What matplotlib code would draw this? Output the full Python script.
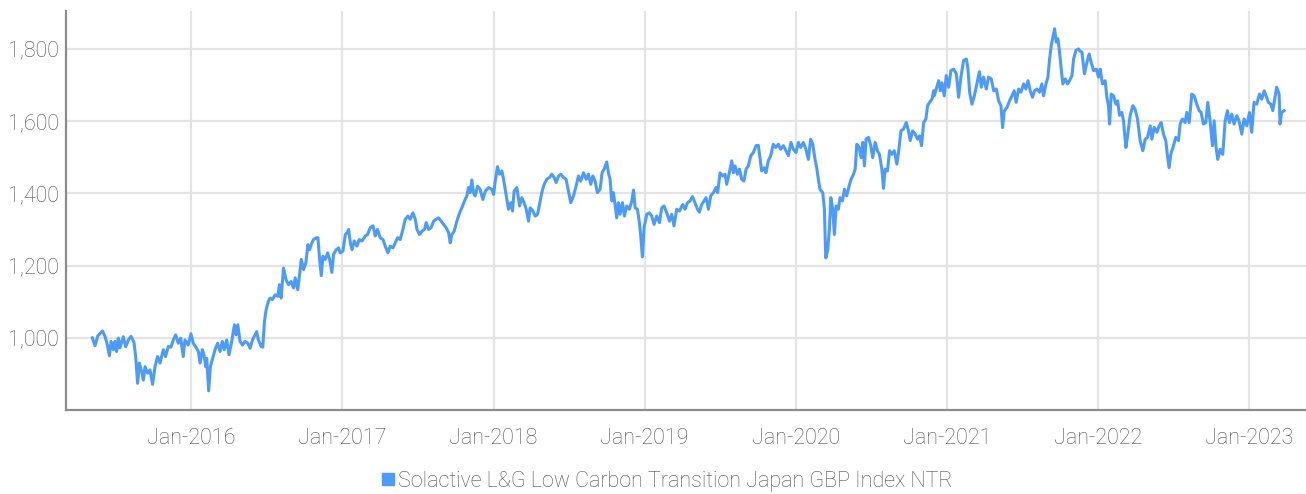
import numpy as np
import pandas as pd
import matplotlib
matplotlib.use("Agg")
import matplotlib.pyplot as plt
import matplotlib.dates as mdates
from matplotlib.ticker import FuncFormatter
from matplotlib.lines import Line2D
from matplotlib import font_manager

# Index level observations: time as decimal years, level in index points
years = [
    2015.347, 2015.365, 2015.383, 2015.414, 2015.431, 2015.447, 2015.460, 2015.471, 2015.486, 2015.497,
    2015.508, 2015.519, 2015.530, 2015.552, 2015.568, 2015.586, 2015.603, 2015.623, 2015.634, 2015.647,
    2015.658, 2015.674, 2015.685, 2015.696, 2015.713, 2015.729, 2015.746, 2015.762, 2015.779, 2015.795,
    2015.817, 2015.832, 2015.850, 2015.868, 2015.883, 2015.899, 2015.916, 2015.932, 2015.949, 2015.960,
    2015.982, 2016.000, 2016.015, 2016.033, 2016.049, 2016.060, 2016.075, 2016.088, 2016.097, 2016.104,
    2016.117, 2016.128, 2016.143, 2016.159, 2016.176, 2016.192, 2016.207, 2016.220, 2016.236, 2016.251,
    2016.269, 2016.287, 2016.298, 2016.309, 2016.324, 2016.340, 2016.357, 2016.375, 2016.390, 2016.406,
    2016.423, 2016.434, 2016.445, 2016.463, 2016.474, 2016.485, 2016.496, 2016.511, 2016.522, 2016.538,
    2016.556, 2016.573, 2016.584, 2016.595,
    2016.611, 2016.628, 2016.644, 2016.661, 2016.677, 2016.688, 2016.705, 2016.717, 2016.728, 2016.743,
    2016.758, 2016.772, 2016.783, 2016.798, 2016.809, 2016.827, 2016.838, 2016.849, 2016.860, 2016.871,
    2016.886, 2016.902, 2016.915, 2016.930, 2016.941, 2016.959, 2016.974, 2016.985, 2017.003, 2017.019,
    2017.030, 2017.041, 2017.052, 2017.063, 2017.078, 2017.096, 2017.111, 2017.129, 2017.151, 2017.166,
    2017.184, 2017.202, 2017.217, 2017.232, 2017.250, 2017.268, 2017.283, 2017.301, 2017.316, 2017.334,
    2017.349, 2017.365, 2017.382, 2017.400, 2017.415, 2017.433, 2017.448, 2017.466, 2017.482, 2017.493,
    2017.510, 2017.526, 2017.543, 2017.554, 2017.570, 2017.587, 2017.603, 2017.620, 2017.636, 2017.653,
    2017.669, 2017.686, 2017.702, 2017.713, 2017.724, 2017.739, 2017.757, 2017.775, 2017.790, 2017.808,
    2017.823, 2017.834, 2017.845, 2017.856, 2017.867, 2017.878, 2017.894,
    2017.911, 2017.929, 2017.945, 2017.967, 2017.989, 2018.000, 2018.011, 2018.026, 2018.039, 2018.055,
    2018.066, 2018.083, 2018.099, 2018.114, 2018.125, 2018.136, 2018.154, 2018.172, 2018.187, 2018.202,
    2018.216, 2018.231, 2018.242, 2018.260, 2018.275, 2018.291, 2018.304, 2018.319, 2018.335, 2018.352,
    2018.370, 2018.385, 2018.401, 2018.414, 2018.430, 2018.445, 2018.463, 2018.480, 2018.496, 2018.511,
    2018.529, 2018.546, 2018.562, 2018.577, 2018.595, 2018.613, 2018.628, 2018.643, 2018.657, 2018.672,
    2018.687, 2018.705, 2018.718, 2018.732, 2018.749, 2018.760, 2018.771, 2018.782, 2018.793, 2018.804,
    2018.815, 2018.826, 2018.837, 2018.853, 2018.866, 2018.881, 2018.899, 2018.915, 2018.926, 2018.937,
    2018.952, 2018.965, 2018.974, 2018.985, 2018.996, 2019.014, 2019.031, 2019.047, 2019.062, 2019.080,
    2019.098, 2019.113, 2019.128, 2019.146, 2019.164, 2019.179, 2019.194, 2019.212, 2019.230,
    2019.252, 2019.267, 2019.283, 2019.300, 2019.316, 2019.333, 2019.349, 2019.362, 2019.377, 2019.393,
    2019.406, 2019.422, 2019.437, 2019.455, 2019.472, 2019.483, 2019.499, 2019.516, 2019.532, 2019.543,
    2019.560, 2019.576, 2019.587, 2019.598, 2019.613, 2019.627, 2019.642, 2019.657, 2019.671, 2019.686,
    2019.702, 2019.719, 2019.737, 2019.752, 2019.763, 2019.774, 2019.790, 2019.803, 2019.818, 2019.834,
    2019.851, 2019.867, 2019.885, 2019.900, 2019.918, 2019.935, 2019.951, 2019.968, 2019.984, 2020.001,
    2020.017, 2020.032, 2020.050, 2020.067, 2020.083, 2020.098, 2020.112, 2020.127, 2020.138, 2020.149,
    2020.160, 2020.178, 2020.189, 2020.198, 2020.211, 2020.222, 2020.231, 2020.244, 2020.255, 2020.266,
    2020.281, 2020.292, 2020.308, 2020.321, 2020.336, 2020.352, 2020.365, 2020.381, 2020.392, 2020.403,
    2020.418, 2020.431, 2020.442, 2020.453, 2020.464, 2020.480, 2020.495, 2020.508, 2020.524, 2020.539,
    2020.552,
    2020.568, 2020.579, 2020.590, 2020.605, 2020.619, 2020.634, 2020.650, 2020.667, 2020.678, 2020.694,
    2020.711, 2020.729, 2020.744, 2020.755, 2020.771, 2020.788, 2020.804, 2020.817, 2020.830, 2020.844,
    2020.859, 2020.870, 2020.883, 2020.899, 2020.910,
    2020.914, 2020.927, 2020.943, 2020.954, 2020.965, 2020.980, 2020.993, 2021.009, 2021.024, 2021.042,
    2021.060, 2021.075, 2021.090, 2021.108, 2021.126, 2021.137, 2021.148, 2021.163, 2021.179, 2021.196,
    2021.212, 2021.225, 2021.240, 2021.258, 2021.273, 2021.291, 2021.307, 2021.324, 2021.340, 2021.355,
    2021.366, 2021.377, 2021.395, 2021.412, 2021.428, 2021.443, 2021.456, 2021.472, 2021.487, 2021.505,
    2021.520, 2021.534, 2021.549, 2021.564, 2021.578, 2021.593, 2021.611, 2021.626, 2021.637, 2021.653,
    2021.666, 2021.677, 2021.688, 2021.699, 2021.710, 2021.721, 2021.732, 2021.743, 2021.754, 2021.765,
    2021.781, 2021.796, 2021.809, 2021.825, 2021.836, 2021.851, 2021.869,
    2021.875, 2021.891, 2021.908, 2021.924, 2021.939, 2021.952, 2021.968, 2021.986, 2022.001, 2022.012,
    2022.027, 2022.045, 2022.056, 2022.067, 2022.074,
    2022.085, 2022.100, 2022.116, 2022.127, 2022.140, 2022.155, 2022.166, 2022.182, 2022.193, 2022.210,
    2022.228, 2022.243, 2022.259, 2022.276, 2022.294, 2022.310, 2022.325, 2022.343, 2022.354, 2022.369,
    2022.387, 2022.402, 2022.415, 2022.431, 2022.446, 2022.457, 2022.468, 2022.479, 2022.497, 2022.512,
    2022.530, 2022.541, 2022.556, 2022.574, 2022.585, 2022.601, 2022.618, 2022.634, 2022.651, 2022.667,
    2022.680, 2022.695, 2022.711, 2022.724, 2022.739, 2022.755, 2022.766, 2022.779, 2022.790, 2022.806,
    2022.823, 2022.839, 2022.854, 2022.867, 2022.883, 2022.898, 2022.916, 2022.931, 2022.949, 2022.964,
    2022.982, 2023.000, 2023.015, 2023.030, 2023.048, 2023.066, 2023.081, 2023.097, 2023.110, 2023.125,
    2023.141, 2023.154, 2023.165, 2023.180, 2023.196, 2023.202, 2023.213, 2023.229,
]

levels = [
    1000, 978, 1005, 1019, 1004, 980, 950, 990, 967, 990,
    962, 999, 972, 1003, 975, 994, 1004, 987, 948, 874,
    930, 906, 883, 920, 902, 911, 871, 920, 948, 930,
    967, 948, 976, 974, 994, 1008, 985, 999, 948, 994,
    980, 1011, 985, 974, 962, 930, 967, 948, 920, 943,
    853, 920, 943, 967, 985, 962, 990, 967, 994, 953,
    990, 1036, 1008, 1036, 990, 980, 990, 985, 971, 994,
    1008, 1017, 994, 976, 974, 1045, 1078, 1101, 1110, 1106,
    1119, 1115, 1147, 1110,
    1193, 1161, 1147, 1156, 1138, 1166, 1133, 1175, 1217, 1189,
    1207, 1258, 1244, 1263, 1272, 1277, 1277, 1217, 1172, 1226,
    1217, 1235, 1217, 1181, 1231, 1244, 1249, 1235, 1240, 1286,
    1291, 1300, 1263, 1244, 1268, 1254, 1272, 1268, 1282, 1286,
    1305, 1310, 1282, 1300, 1277, 1272, 1254, 1235, 1254, 1249,
    1263, 1277, 1272, 1300, 1328, 1337, 1328, 1346, 1328, 1300,
    1286, 1295, 1300, 1319, 1300, 1305, 1323, 1328, 1332, 1323,
    1314, 1305, 1291, 1263, 1286, 1295, 1323, 1346, 1360, 1379,
    1393, 1416, 1402, 1437, 1402, 1393, 1420,
    1411, 1383, 1406, 1416, 1411, 1397, 1434, 1474, 1453, 1462,
    1439, 1397, 1356, 1374, 1351, 1406, 1416, 1365, 1388, 1374,
    1356, 1323, 1360, 1351, 1337, 1342, 1369, 1402, 1425, 1439,
    1444, 1453, 1444, 1430, 1448, 1453, 1444, 1439, 1406, 1374,
    1393, 1420, 1448, 1434, 1457, 1439, 1453, 1425, 1448, 1434,
    1402, 1411, 1457, 1467, 1487, 1457, 1439, 1379, 1402, 1369,
    1332, 1374, 1342, 1374, 1337, 1365, 1356, 1379, 1409, 1360,
    1356, 1319, 1282, 1224, 1305, 1342, 1346, 1337, 1314, 1337,
    1319, 1360, 1365, 1346, 1323, 1342, 1310, 1356, 1351,
    1369, 1356, 1374, 1379, 1391, 1374, 1356, 1348, 1369, 1379,
    1388, 1356, 1393, 1402, 1416, 1402, 1457, 1448, 1453, 1425,
    1457, 1490, 1457, 1476, 1453, 1467, 1439, 1434, 1467, 1476,
    1504, 1513, 1532, 1533, 1499, 1462, 1471, 1457, 1490, 1504,
    1536, 1527, 1536, 1522, 1532, 1518, 1504, 1541, 1522, 1513,
    1541, 1527, 1541, 1522, 1494, 1550, 1536, 1494, 1471, 1439,
    1411, 1402, 1356, 1221, 1244, 1300, 1388, 1356, 1286, 1365,
    1356, 1388, 1379, 1411, 1393, 1420, 1439, 1453, 1467, 1536,
    1527, 1499, 1541, 1476, 1550, 1555, 1532, 1499, 1541, 1518,
    1508,
    1467, 1414, 1467, 1462, 1518, 1508, 1518, 1481, 1513, 1573,
    1578, 1596, 1573, 1546, 1573, 1564, 1550, 1559, 1532, 1596,
    1606, 1643, 1652, 1661, 1684,
    1670, 1689, 1712, 1684, 1706, 1670, 1726, 1694, 1740, 1744,
    1731, 1666, 1722, 1768, 1772, 1744, 1680, 1647, 1670, 1703,
    1737, 1694, 1722, 1689, 1722, 1717, 1684, 1689, 1656, 1643,
    1582, 1628, 1638, 1656, 1670, 1684, 1652, 1689, 1680, 1703,
    1689, 1712, 1684, 1666, 1684, 1689, 1680, 1703, 1670, 1703,
    1722, 1772, 1809, 1832, 1856, 1819, 1828, 1791, 1744, 1703,
    1717, 1703, 1712, 1726, 1772, 1796, 1800,
    1795, 1791, 1731, 1763, 1786, 1763, 1740, 1744, 1722, 1744,
    1703, 1712, 1666, 1643, 1592,
    1675, 1670, 1647, 1656, 1616, 1624, 1601, 1527, 1559, 1615,
    1643, 1633, 1606, 1546, 1518, 1550, 1555, 1587, 1550, 1583,
    1569, 1587, 1596, 1564, 1546, 1504, 1471, 1508, 1532, 1555,
    1546, 1592, 1606, 1596, 1624, 1596, 1675, 1670, 1647, 1629,
    1624, 1592, 1596, 1652, 1601, 1532, 1601, 1527, 1494, 1522,
    1508, 1601, 1629, 1596, 1619, 1592, 1615, 1601, 1564, 1606,
    1587, 1624, 1569, 1652, 1647, 1675, 1661, 1684, 1670, 1652,
    1647, 1629, 1656, 1694, 1675, 1592, 1624, 1629,
]

series_name = "Solactive L&G Low Carbon Transition Japan GBP Index NTR"
tick_years = [2016, 2017, 2018, 2019, 2020, 2021, 2022, 2023]
y_ticks = [1000, 1200, 1400, 1600, 1800]

LINE_BLUE = "#4d9bf8"
TEXT_GREY = "#4f4f4f"
GRID_GREY = "#e4e4e4"
AXIS_GREY = "#8c8c8c"


def to_timestamp(decimal_year):
    y = int(np.floor(decimal_year))
    start = pd.Timestamp(year=y, month=1, day=1)
    end = pd.Timestamp(year=y + 1, month=1, day=1)
    return start + (decimal_year - y) * (end - start)


dates = [to_timestamp(v) for v in years]

available = {f.name for f in font_manager.fontManager.ttflist}
family = next((f for f in ("Roboto", "Lato", "Open Sans") if f in available), "DejaVu Sans")
plt.rcParams["font.family"] = family
plt.rcParams["font.weight"] = "light"
FONT_SIZE = 15.5

fig = plt.figure(figsize=(13.06, 4.94), dpi=100)
ax = fig.add_axes([66 / 1306, 1 - 410 / 494, 1 - 66 / 1306, (410 - 11) / 494])

ax.plot(dates, levels, color=LINE_BLUE, linewidth=2.2, solid_joinstyle="round", zorder=3)

ax.set_xlim(to_timestamp(2015.173), to_timestamp(2023.374))
ax.set_ylim(800, 1905)

ax.set_xticks([pd.Timestamp(year=y, month=1, day=1) for y in tick_years])
ax.xaxis.set_major_formatter(mdates.DateFormatter("%b-%Y"))
ax.set_yticks(y_ticks)
ax.yaxis.set_major_formatter(FuncFormatter(lambda v, p: f"{v:,.0f}"))

ax.grid(True, color=GRID_GREY, linewidth=1.6, zorder=0)
ax.set_axisbelow(True)
for side in ("top", "right"):
    ax.spines[side].set_visible(False)
for side in ("left", "bottom"):
    ax.spines[side].set_color(AXIS_GREY)
    ax.spines[side].set_linewidth(1.6)

ax.tick_params(axis="both", length=0, labelsize=FONT_SIZE, labelcolor=TEXT_GREY)
ax.tick_params(axis="y", pad=5)
ax.tick_params(axis="x", pad=13)

handle = Line2D([], [], linestyle="none", marker="s", markersize=8,
                markerfacecolor=LINE_BLUE, markeredgecolor=LINE_BLUE)
fig.legend([handle], [series_name], loc="center",
           bbox_to_anchor=(667 / 1306, 1 - 481 / 494), frameon=False,
           fontsize=FONT_SIZE, labelcolor=TEXT_GREY, handlelength=0.6, handletextpad=0.15,
           borderpad=0, borderaxespad=0)

fig.savefig("out.png", dpi=100)
